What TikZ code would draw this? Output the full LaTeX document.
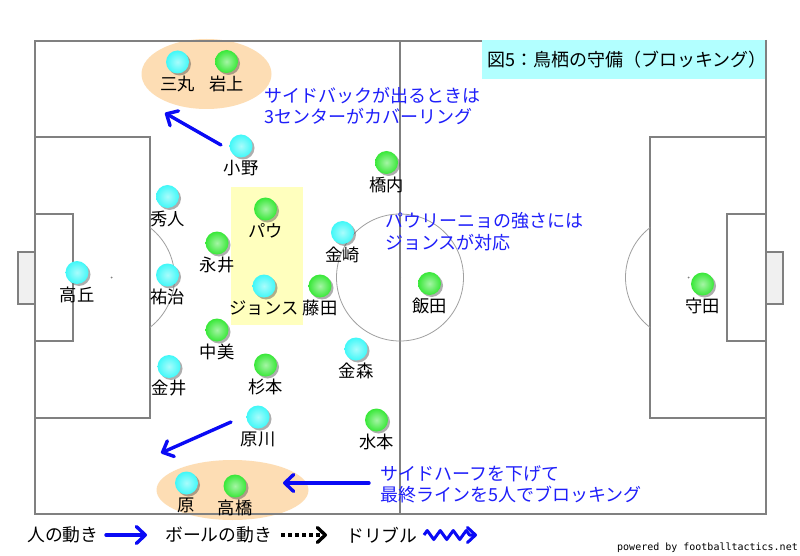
\documentclass[tikz,border=0pt]{standalone}
\usepackage{fontspec}
\setmainfont{Noto Sans CJK JP}
\newfontfamily\pwfont{DejaVu Sans Mono}
\usetikzlibrary{arrows.meta,decorations.pathmorphing,shadows}
\definecolor{pc}{RGB}{64,248,248}
\definecolor{pg}{RGB}{56,232,56}
\definecolor{peach}{RGB}{253,221,180}
\definecolor{hl}{RGB}{255,255,190}
\definecolor{tb}{RGB}{178,255,255}
\definecolor{fl}{RGB}{128,128,128}
\definecolor{arcc}{RGB}{160,160,160}
\definecolor{mv}{RGB}{10,10,245}
\definecolor{note}{RGB}{30,30,250}
\tikzset{
  fieldline/.style={draw=fl, line width=1.1pt},
  arcline/.style={draw=arcc, line width=0.8pt},
  goalbox/.style={draw=fl, fill=black!6, line width=1.1pt},
  ball/.style={circle, minimum size=23pt, inner sep=0pt,
    drop shadow={shadow xshift=2pt, shadow yshift=-2pt, opacity=0.45, fill=black!70}},
  cy/.style={ball, shade, inner color=pc!45!white, outer color=pc},
  gr/.style={ball, shade, inner color=pg!45!white, outer color=pg},
  lbl/.style={inner sep=0pt, font=\fontsize{17.3}{20}\selectfont, text=black},
  notetext/.style={inner sep=0pt, anchor=west, align=left, text=note,
    font=\fontsize{18}{21.5}\selectfont},
  legtext/.style={inner sep=0pt, anchor=west, font=\fontsize{17.8}{20}\selectfont},
  move/.style={draw=mv, line width=3.4pt, line cap=round,
    -{Straight Barb[length=9pt,width=17pt,round]}},
  ballmove/.style={draw=black, line width=3.4pt, dash pattern=on 4pt off 3pt,
    -{Straight Barb[length=8pt,width=15pt,round]}},
  dribble/.style={draw=mv, line width=3pt, line join=round,
    decorate, decoration={zigzag, amplitude=4.5pt, segment length=13pt, post length=7pt},
    -{Straight Barb[length=8pt,width=15pt,round]}},
}
\newcommand\plr[5]{%
  \node[#4] (#1) at (#2,#3) {};
  \node[lbl] (#1l) at (#2,#3+22) {#5};}
\begin{document}
\begin{tikzpicture}[x=1pt,y=-1pt]
\useasboundingbox (0,0) rectangle (800,556);
\fill[white] (0,0) rectangle (800,556);
% highlight areas
\fill[peach] (206.5,74) ellipse[x radius=65pt, y radius=35pt];
\fill[peach] (232.5,490) ellipse[x radius=76pt, y radius=30pt];
\fill[hl] (231,187) rectangle (303,325);
% field
\draw[goalbox] (18,252) rectangle (35,304);
\draw[goalbox] (766,252) rectangle (783,304);
\draw[fieldline] (35,41) rectangle (766,514);
\draw[fieldline] (400,41) -- (400,514);
\draw[fieldline] (35,137) rectangle (150,418);
\draw[fieldline] (35,214) rectangle (73,341);
\draw[fieldline] (650,137) rectangle (766,418);
\draw[fieldline] (727,214) rectangle (766,341);
\draw[arcline] (400,277.5) circle[radius=63.5pt];
\begin{scope}
  \clip (150,100) rectangle (300,450);
  \draw[arcline] (111.5,277.5) circle[radius=63pt];
\end{scope}
\begin{scope}
  \clip (500,100) rectangle (650,450);
  \draw[arcline] (688.5,277.5) circle[radius=63pt];
\end{scope}
\fill[fl] (111.5,277.5) circle[radius=1pt];
\fill[fl] (688.5,277.5) circle[radius=1pt];
\fill[fl] (400,277.5) circle[radius=1pt];
% title
\node[fill=tb, minimum height=39pt, text width=274pt, inner xsep=5pt, inner ysep=0pt,
  anchor=west, align=left, font=\fontsize{18}{20}\selectfont] (title) at (482,59.5)
  {図5：鳥栖の守備（ブロッキング）};
\draw[fieldline] (766,40) -- (766,79);
% players
\plr{mitsumaru}{177.5}{62}{cy}{三丸}
\plr{iwakami}{226.5}{61.5}{gr}{岩上}
\plr{ono}{241}{146}{cy}{小野}
\plr{hideto}{167.5}{196.5}{cy}{秀人}
\plr{yuji}{167.5}{275}{cy}{祐治}
\plr{takaoka}{77}{272.5}{cy}{高丘}
\plr{pau}{265.5}{209}{gr}{パウ}
\plr{nagai}{217}{243}{gr}{永井}
\plr{jonsu}{264}{286}{cy}{ジョンス}
\plr{fujita}{320}{286}{gr}{藤田}
\plr{kanezaki}{342.5}{232.5}{cy}{金崎}
\plr{hashiuchi}{386.5}{162.5}{gr}{橋内}
\plr{iida}{429.5}{283.5}{gr}{飯田}
\plr{nakami}{217}{330}{gr}{中美}
\plr{kanai}{169}{366.5}{cy}{金井}
\plr{sugimoto}{265.5}{365}{gr}{杉本}
\plr{kanamori}{356}{349}{cy}{金森}
\plr{harakawa}{258}{417}{cy}{原川}
\plr{hara}{186.5}{483}{cy}{原}
\plr{takahashi}{235}{486}{gr}{高橋}
\plr{mizumoto}{376.5}{420}{gr}{水本}
\plr{morita}{702.5}{284}{gr}{守田}
% movement arrows
\coordinate (a1s) at (221,145);
\coordinate (a1e) at (165,113);
\coordinate (a2s) at (231,422);
\coordinate (a2e) at (161,453);
\coordinate (a3s) at (369,483);
\coordinate (a3e) at (283,483);
\draw[move] (a1s) -- (a1e);
\draw[move] (a2s) -- (a2e);
\draw[move] (a3s) -- (a3e);
% notes
\node[notetext] (n1) at (264,106) {サイドバックが出るときは\\3センターがカバーリング};
\node[notetext] (n2) at (385,231.5) {パウリーニョの強さには\\ジョンスが対応};
\node[notetext] (n3) at (380,484.5) {サイドハーフを下げて\\最終ラインを5人でブロッキング};
% legend
\node[legtext] (l1) at (27,535) {人の動き};
\coordinate (l1s) at (106,535);
\coordinate (l1e) at (147,535);
\draw[move] (l1s) -- (l1e);
\node[legtext] (l2) at (165,535) {ボールの動き};
\coordinate (l2s) at (281,535);
\coordinate (l2e) at (327,535);
\draw[ballmove] (l2s) -- (l2e);
\node[legtext] (l3) at (346,535) {ドリブル};
\coordinate (l3s) at (424,535);
\coordinate (l3e) at (477,535);
\draw[dribble] (l3s) -- (l3e);
\node[inner sep=0pt, anchor=east, font=\pwfont\fontsize{10}{12}\selectfont] (pw) at (798,548) {powered by footballtactics.net};
\end{tikzpicture}
\end{document}
